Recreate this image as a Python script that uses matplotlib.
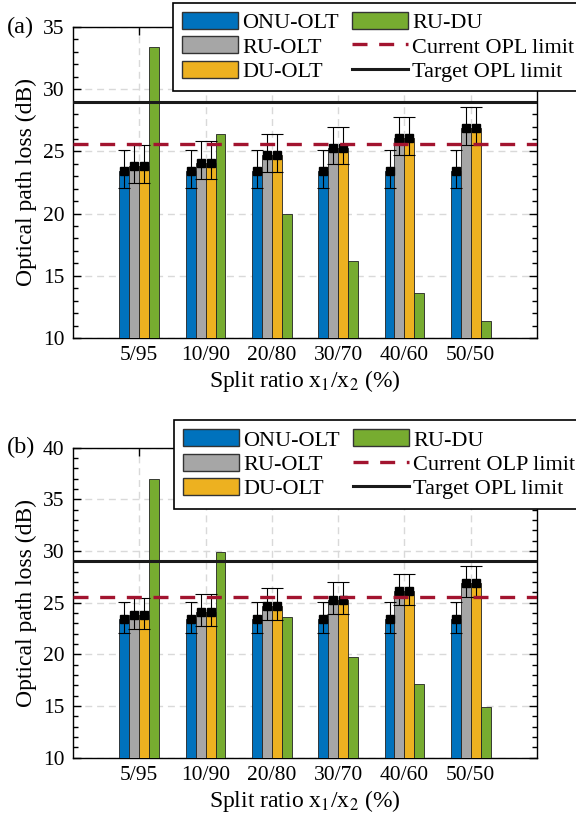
import matplotlib
matplotlib.use('Agg')
import numpy as np
import matplotlib.pyplot as plt
from matplotlib.patches import Patch
from matplotlib.lines import Line2D
from matplotlib.ticker import MultipleLocator

plt.rcParams['font.family'] = ['Liberation Serif', 'DejaVu Serif']
plt.rcParams['mathtext.fontset'] = 'stix'

# data
categories = ['5/95', '10/90', '20/80', '30/70', '40/60', '50/50']
onu_olt = [23.4, 23.4, 23.4, 23.4, 23.4, 23.4]
ru_olt = [23.8, 24.1, 24.7, 25.3, 26.1, 26.9]
du_olt = [23.8, 24.1, 24.7, 25.3, 26.1, 26.9]
ru_du_a = [33.4, 26.4, 20.0, 16.2, 13.6, 11.4]
ru_du_b = [37.0, 29.9, 23.6, 19.7, 17.1, 14.9]
err_upper = [1.7, 1.7, 1.7, 1.7, 1.7, 1.7]
err_lower = [1.35, 1.35, 1.35, 1.35, 1.35, 1.35]
current_limit = 25.6
target_limit = 29.0

colors = ['#0072BD', '#A6A6A6', '#EDB120', '#77AC30']
red = '#A2142F'

W, H = 576, 831
fig = plt.figure(figsize=(W / 100, H / 100), dpi=100)


def panel(top_px, bot_px, ymax, ru_du, tag, cur_label, leg_top, leg_left):
	ax = fig.add_axes([73 / W, 1 - bot_px / H, 464 / W, (bot_px - top_px) / H])
	x = np.arange(1, len(categories) + 1)
	w = 0.15
	series = [onu_olt, ru_olt, du_olt, ru_du]
	offs = [-1.5 * w, -0.5 * w, 0.5 * w, 1.5 * w]
	for s, o, c in zip(series, offs, colors):
		ax.bar(x + o, s, w, color=c, edgecolor='#222222', linewidth=0.6, zorder=3)
	for s, o in zip(series[:3], offs[:3]):
		ax.errorbar(x + o, s, yerr=[err_lower, err_upper], fmt='s', color='black',
					markersize=5.5, elinewidth=0.8, capsize=4.3, capthick=0.8, zorder=4)
	ax.axhline(current_limit, color=red, lw=2.4, dashes=(4.5, 3.5), zorder=5)
	ax.axhline(target_limit, color='#1a1a1a', lw=2.2, zorder=5)

	ax.set_xlim(0, 7)
	ax.set_ylim(10, ymax)
	ax.set_xticks(x)
	ax.set_xticklabels(categories)
	ax.yaxis.set_major_locator(MultipleLocator(5))
	ax.yaxis.set_minor_locator(MultipleLocator(1))
	ax.tick_params(which='both', direction='in', top=True, right=True, labelsize=15.5, pad=6)
	ax.tick_params(which='major', length=6, width=1)
	ax.tick_params(which='minor', length=3.5, width=1)
	ax.tick_params(axis='x', which='minor', top=False, bottom=False)
	ax.grid(True, color='#d9d9d9', lw=1, dashes=(5, 3.5), zorder=0)
	ax.set_axisbelow(True)
	for sp in ax.spines.values():
		sp.set_linewidth(1.0)
	ax.set_ylabel('Optical path loss (dB)', fontsize=17, labelpad=4)
	ax.set_xlabel('Split ratio x$_1$/x$_2$ (%)', fontsize=17, labelpad=2)
	fig.text(7 / W, 1 - top_px / H, tag, fontsize=17.5, ha='left', va='center')

	handles = [Patch(facecolor=colors[0], edgecolor='#333333', lw=1),
			   Patch(facecolor=colors[1], edgecolor='#333333', lw=1),
			   Patch(facecolor=colors[2], edgecolor='#333333', lw=1),
			   Patch(facecolor=colors[3], edgecolor='#333333', lw=1),
			   Line2D([], [], color=red, lw=2.4, dashes=(4.5, 3.5)),
			   Line2D([], [], color='#1a1a1a', lw=2.2)]
	labels = ['ONU-OLT', 'RU-OLT', 'DU-OLT', 'RU-DU', cur_label, 'Target OPL limit']
	leg = fig.legend(handles, labels, ncol=2, loc='upper left',
					 bbox_to_anchor=(leg_left / W, 1 - leg_top / H), bbox_transform=fig.transFigure,
					 fontsize=16, frameon=True, fancybox=False, framealpha=1, edgecolor='black',
					 handlelength=2.5, handleheight=0.8, handletextpad=0.2, labelspacing=0.14,
					 columnspacing=0.6, borderpad=0.42, borderaxespad=0)
	leg.get_frame().set_linewidth(1.2)
	return ax


panel(27, 338, 35, ru_du_a, '(a)', 'Current OPL limit', 2.7, 173)
panel(447.7, 757.7, 40, ru_du_b, '(b)', 'Current OLP limit', 420, 174)

fig.savefig('out.png', dpi=100)
